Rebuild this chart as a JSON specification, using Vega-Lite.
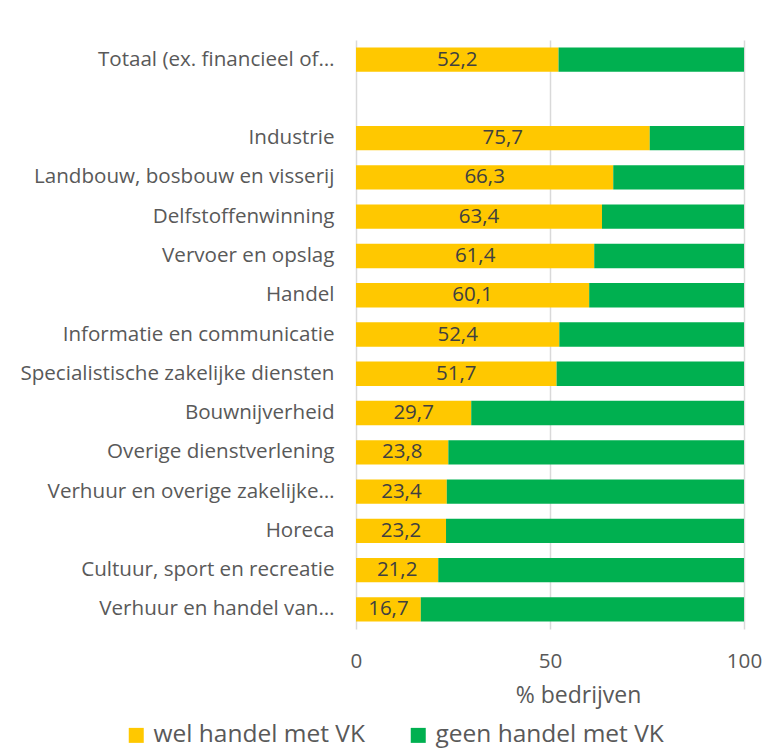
{
  "$schema": "https://vega.github.io/schema/vega-lite/v6.json",
  "width": 388,
  "height": 589,
  "autosize": {"type": "none"},
  "padding": {"left": 356, "top": 40, "right": 21, "bottom": 121},
  "background": "white",
  "config": {
    "view": {"stroke": null},
    "font": "Open Sans",
    "locale": {"number": {"decimal": ",", "thousands": ".", "grouping": [3], "currency": ["€", ""]}}
  },
  "data": {"values": [
    {"sector": "Totaal (ex. financieel of…", "series": "wel handel met VK", "value": 52.2},
    {"sector": "Totaal (ex. financieel of…", "series": "geen handel met VK", "value": 47.8},
    {"sector": "Industrie", "series": "wel handel met VK", "value": 75.7},
    {"sector": "Industrie", "series": "geen handel met VK", "value": 24.3},
    {"sector": "Landbouw, bosbouw en visserij", "series": "wel handel met VK", "value": 66.3},
    {"sector": "Landbouw, bosbouw en visserij", "series": "geen handel met VK", "value": 33.7},
    {"sector": "Delfstoffenwinning", "series": "wel handel met VK", "value": 63.4},
    {"sector": "Delfstoffenwinning", "series": "geen handel met VK", "value": 36.6},
    {"sector": "Vervoer en opslag", "series": "wel handel met VK", "value": 61.4},
    {"sector": "Vervoer en opslag", "series": "geen handel met VK", "value": 38.6},
    {"sector": "Handel", "series": "wel handel met VK", "value": 60.1},
    {"sector": "Handel", "series": "geen handel met VK", "value": 39.9},
    {"sector": "Informatie en communicatie", "series": "wel handel met VK", "value": 52.4},
    {"sector": "Informatie en communicatie", "series": "geen handel met VK", "value": 47.6},
    {"sector": "Specialistische zakelijke diensten", "series": "wel handel met VK", "value": 51.7},
    {"sector": "Specialistische zakelijke diensten", "series": "geen handel met VK", "value": 48.3},
    {"sector": "Bouwnijverheid", "series": "wel handel met VK", "value": 29.7},
    {"sector": "Bouwnijverheid", "series": "geen handel met VK", "value": 70.3},
    {"sector": "Overige dienstverlening", "series": "wel handel met VK", "value": 23.8},
    {"sector": "Overige dienstverlening", "series": "geen handel met VK", "value": 76.2},
    {"sector": "Verhuur en overige zakelijke…", "series": "wel handel met VK", "value": 23.4},
    {"sector": "Verhuur en overige zakelijke…", "series": "geen handel met VK", "value": 76.6},
    {"sector": "Horeca", "series": "wel handel met VK", "value": 23.2},
    {"sector": "Horeca", "series": "geen handel met VK", "value": 76.8},
    {"sector": "Cultuur, sport en recreatie", "series": "wel handel met VK", "value": 21.2},
    {"sector": "Cultuur, sport en recreatie", "series": "geen handel met VK", "value": 78.8},
    {"sector": "Verhuur en handel van…", "series": "wel handel met VK", "value": 16.7},
    {"sector": "Verhuur en handel van…", "series": "geen handel met VK", "value": 83.3}
  ]},
  "encoding": {
    "y": {
      "field": "sector",
      "type": "nominal",
      "title": null,
      "scale": {
        "domain": ["Totaal (ex. financieel of…", " ", "Industrie", "Landbouw, bosbouw en visserij", "Delfstoffenwinning", "Vervoer en opslag", "Handel", "Informatie en communicatie", "Specialistische zakelijke diensten", "Bouwnijverheid", "Overige dienstverlening", "Verhuur en overige zakelijke…", "Horeca", "Cultuur, sport en recreatie", "Verhuur en handel van…"],
        "paddingInner": 0.38,
        "paddingOuter": 0.19
      },
      "axis": {
        "domain": false,
        "ticks": false,
        "labelPadding": 22,
        "labelFontSize": 20.6,
        "labelColor": "#595959",
        "labelLimit": 400
      }
    }
  },
  "layer": [
    {
      "mark": {"type": "bar"},
      "encoding": {
        "x": {
          "field": "value",
          "type": "quantitative",
          "stack": "zero",
          "title": "% bedrijven",
          "scale": {"domain": [0, 100], "nice": false},
          "axis": {
            "values": [0, 50, 100],
            "domain": false,
            "ticks": false,
            "grid": true,
            "gridColor": "#d9d9d9",
            "gridWidth": 1.5,
            "labelFlush": false,
            "labelFontSize": 20.6,
            "labelColor": "#595959",
            "labelPadding": 22,
            "titleFontSize": 23,
            "titleFontWeight": "normal",
            "titleColor": "#595959",
            "titleX": 222,
            "titleY": 73,
            "titleBaseline": "alphabetic"
          }
        },
        "color": {
          "field": "series",
          "type": "nominal",
          "scale": {"domain": ["wel handel met VK", "geen handel met VK"], "range": ["#FFC800", "#00B050"]},
          "legend": {
            "title": null,
            "orient": "none",
            "direction": "horizontal",
            "legendX": -232,
            "legendY": 683,
            "symbolType": "square",
            "symbolSize": 225,
            "symbolStrokeWidth": 0,
            "labelFontSize": 24.5,
            "labelColor": "#595959",
            "labelLimit": 400,
            "columnPadding": 41,
            "labelOffset": 5
          }
        },
        "order": {"field": "series", "sort": "descending"}
      }
    },
    {
      "transform": [{"filter": "datum.series === 'wel handel met VK'"}],
      "mark": {"type": "text", "fontSize": 20.5, "color": "#404040", "baseline": "middle"},
      "encoding": {
        "x": {
          "field": "value",
          "type": "quantitative",
          "stack": null,
          "scale": {"domain": [0, 200], "nice": false},
          "axis": null
        },
        "text": {"field": "value", "type": "quantitative", "format": ".1f", "formatType": "number"}
      }
    }
  ],
  "resolve": {"scale": {"x": "independent"}}
}
